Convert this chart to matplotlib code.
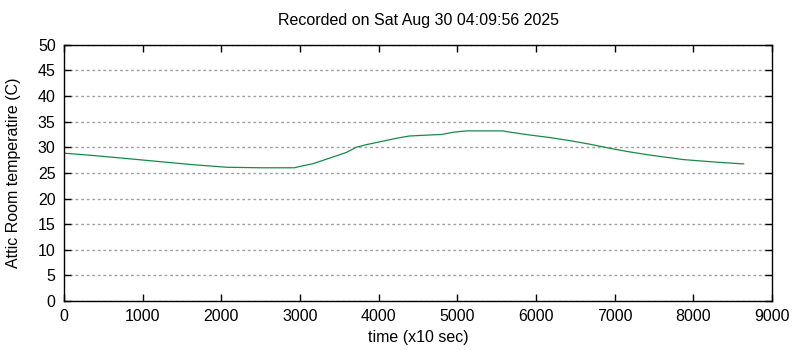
import matplotlib
matplotlib.use("Agg")
import matplotlib.pyplot as plt

plt.rcParams['font.family'] = ['Liberation Sans', 'DejaVu Sans']

# samples every 10 s, attic room sensor
time = [0, 370, 800, 1220, 1640, 2070, 2500, 2930, 2980, 3165, 3380, 3590,
        3714, 3840, 4010, 4240, 4390, 4650, 4800, 4950, 5120, 5580, 5670,
        5920, 6175, 6430, 6685, 6940, 7170, 7440, 7870, 8290, 8640]
temp = [28.85, 28.4, 27.8, 27.2, 26.6, 26.1, 26.0, 26.0, 26.2, 26.8, 27.9, 29.0,
        30.0, 30.5, 31.05, 31.8, 32.2, 32.4, 32.5, 32.95, 33.2, 33.2, 32.95,
        32.4, 31.9, 31.3, 30.6, 29.8, 29.15, 28.5, 27.6, 27.1, 26.75]

title = "Recorded on Sat Aug 30 04:09:56 2025"
xticks = list(range(0, 9001, 1000))
yticks = list(range(0, 51, 5))

fig = plt.figure(figsize=(8, 3.5), dpi=100)
ax = fig.add_axes([0.08, 0.14, 0.885, 0.732])

ax.plot(time, temp, color='#178a48', linewidth=0.9)

ax.set_xlim(0, 9000)
ax.set_ylim(0, 50)
ax.set_xticks(xticks)
ax.set_yticks(yticks)
ax.tick_params(direction='in', length=5, width=1, top=True, right=True,
               labelsize=11.5, pad=6)
ax.yaxis.grid(True, linestyle=(0, (2, 2)), color='#a0a0a0', linewidth=1)
ax.set_axisbelow(True)
for s in ax.spines.values():
    s.set_linewidth(1)

ax.set_xlabel("time (x10 sec)", fontsize=11.5, labelpad=4)
ax.set_ylabel("Attic Room temperatire (C)", fontsize=11.5, labelpad=12)
ax.set_title(title, fontsize=11.5, pad=14)

fig.savefig("out.png", dpi=100)
